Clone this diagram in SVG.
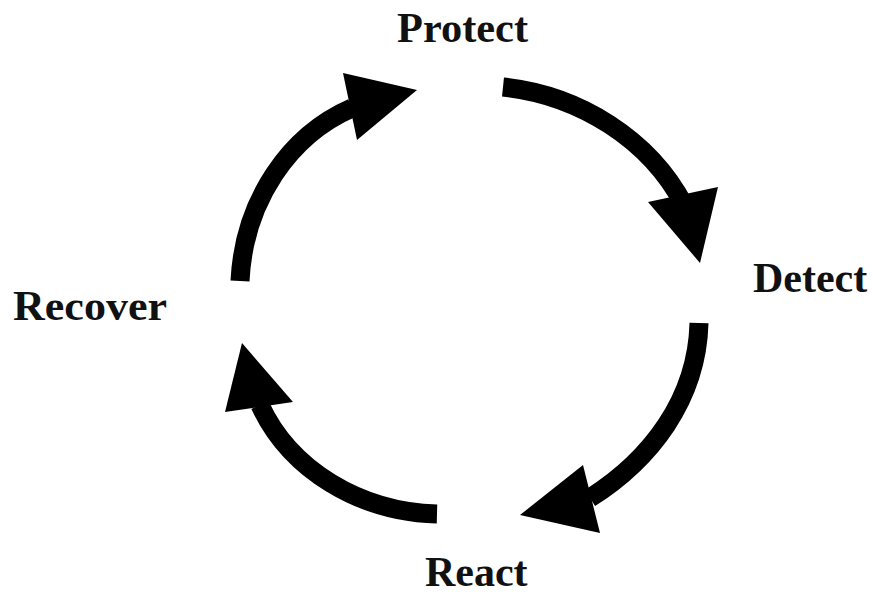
<svg xmlns="http://www.w3.org/2000/svg" width="873" height="597" viewBox="0 0 873 597">
<style>
.lbl{font-family:"Liberation Serif","Times New Roman",serif;font-weight:bold;font-size:42px;fill:#111}
.shaft{fill:none;stroke:#000;stroke-width:19;stroke-linecap:butt}
.head{fill:#000}
</style>
<rect width="873" height="597" fill="#fff"/>
<g id="protect"><text class="lbl" x="397" y="42" textLength="131" lengthAdjust="spacingAndGlyphs">Protect</text></g>
<g id="detect"><text class="lbl" x="753" y="292">Detect</text></g>
<g id="react"><text class="lbl" x="425" y="586">React</text></g>
<g id="recover"><text class="lbl" x="13" y="320" textLength="154" lengthAdjust="spacingAndGlyphs">Recover</text></g>
<g id="connectors">
<path class="shaft" d="M240,281 C244,200 290,135 352,108"/>
<polygon class="head" points="343,73 417,90 357,140"/>
<path class="shaft" d="M503,87 C580,95 650,140 684,205"/>
<polygon class="head" points="648,202 718,187 700,263"/>
<path class="shaft" d="M699,323 C697,400 650,460 590,498"/>
<polygon class="head" points="583,465 600,533 520,515"/>
<path class="shaft" d="M437,514 C360,512 290,470 260,405"/>
<polygon class="head" points="225,412 293,402 242,343"/>
</g>
</svg>
